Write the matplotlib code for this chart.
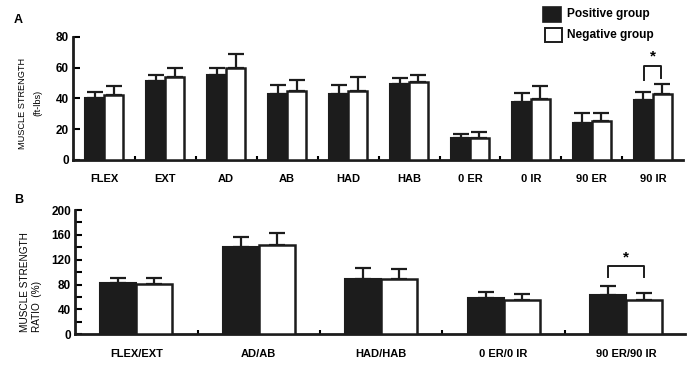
import matplotlib
matplotlib.use("Agg")
import matplotlib.pyplot as plt
import numpy as np
from matplotlib.patches import Rectangle

plt.rcParams['font.family'] = ['Liberation Sans', 'DejaVu Sans']

# ---- data panel A ----
cats_a = ["FLEX", "EXT", "AD", "AB", "HAD", "HAB", "0 ER", "0 IR", "90 ER", "90 IR"]
pos_a = [40, 51.5, 55.4, 43, 43, 49.5, 14, 38, 24.3, 39]
pos_a_err = [4.5, 4, 4.5, 6, 6, 3.5, 2.7, 5.5, 6, 5]
neg_a = [42, 54, 59.8, 45, 44.6, 50.4, 14, 39.8, 25.4, 43]
neg_a_err = [6, 5.5, 9, 7, 9.5, 5, 4.5, 8, 5, 6.5]
yticks_a = [0, 20, 40, 60, 80]

# ---- data panel B ----
cats_b = ["FLEX/EXT", "AD/AB", "HAD/HAB", "0 ER/0 IR", "90 ER/90 IR"]
pos_b = [82, 141, 88.5, 58, 63.3]
pos_b_err = [8, 15.5, 18.5, 10.7, 14.4]
neg_b = [80.4, 143.7, 89.5, 55, 54.7]
neg_b_err = [9.5, 20, 15, 9.7, 11.3]
yticks_b = [0, 40, 80, 120, 160, 200]

BLACK = "#1c1c1c"

fig = plt.figure(figsize=(6.96, 3.66), dpi=100)
axA = fig.add_axes([0.105, 0.563, 0.876, 0.336])
axB = fig.add_axes([0.108, 0.087, 0.876, 0.339])


def style(ax):
    for s in ["top", "right"]:
        ax.spines[s].set_visible(False)
    for s in ["left", "bottom"]:
        ax.spines[s].set_linewidth(2)
        ax.spines[s].set_color(BLACK)


def draw(ax, cats, pos, pos_err, neg, neg_err, w, capsize):
    x = np.arange(len(cats))
    ax.bar(x - w / 2, pos, w, color=BLACK, edgecolor=BLACK, linewidth=1.5, zorder=3)
    ax.bar(x + w / 2, neg, w, color="white", edgecolor=BLACK, linewidth=1.8, zorder=3)
    z = [0] * len(cats)
    ax.errorbar(x - w / 2, pos, yerr=[z, pos_err], fmt="none", ecolor=BLACK,
                elinewidth=1.6, capsize=capsize, capthick=1.6, zorder=2)
    ax.errorbar(x + w / 2, neg, yerr=[z, neg_err], fmt="none", ecolor=BLACK,
                elinewidth=1.6, capsize=capsize, capthick=1.6, zorder=2)
    ax.set_xticks(x)
    ax.set_xticks(x[:-1] + 0.5, minor=True)
    ax.tick_params(axis="x", which="major", length=0)
    ax.tick_params(axis="x", which="minor", length=3, width=1.5, direction="in")
    ax.tick_params(axis="y", which="both", direction="in", width=1.5, length=5,
                   labelsize=8, pad=3)
    return x


# Panel A
style(axA)
wA = 0.31
x = draw(axA, cats_a, pos_a, pos_a_err, neg_a, neg_a_err, wA, 5.5)
axA.set_xlim(-0.51, 9.49)
axA.set_ylim(0, 80)
axA.set_yticks(yticks_a)
axA.set_yticklabels([str(v) for v in yticks_a], fontweight="bold", fontsize=8.5)
axA.set_xticklabels(cats_a, fontsize=8, fontweight="bold")
axA.tick_params(axis="x", which="major", pad=10)
# significance bracket A
i = 9
axA.plot([i - 0.28 / 2, i - 0.28 / 2, i + 0.28 / 2, i + 0.28 / 2], [52, 61.2, 61.2, 53],
         color=BLACK, lw=1.4, clip_on=False)
axA.text(i, 63, "*", ha="center", va="bottom", fontsize=11, fontweight="bold")

# Panel B
style(axB)
wB = 0.295
x = draw(axB, cats_b, pos_b, pos_b_err, neg_b, neg_b_err, wB, 5.5)
axB.set_xlim(-0.5, 4.48)
axB.set_ylim(0, 200)
axB.set_yticks(yticks_b)
axB.set_yticks(np.arange(20, 200, 40), minor=True)
axB.set_yticklabels([str(v) for v in yticks_b], fontweight="bold", fontsize=8.5)
axB.tick_params(axis="y", which="minor", length=5, width=1.5, direction="in")
axB.set_xticklabels(cats_b, fontsize=8, fontweight="bold")
axB.tick_params(axis="x", which="major", pad=11)
i = 4
axB.plot([i - wB / 2, i - wB / 2, i + wB / 2, i + wB / 2], [92, 110, 110, 92],
         color=BLACK, lw=1.4, clip_on=False)
axB.text(i, 113, "*", ha="center", va="bottom", fontsize=11, fontweight="bold")

# Y labels
fig.text(30 / 696, 1 - 103 / 366, "MUSCLE STRENGTH\n(ft-lbs)", rotation=90,
         ha="center", va="center", multialignment="center", fontsize=6.6,
         linespacing=1.9)
fig.text(31 / 696, 1 - 282 / 366, "MUSCLE STRENGTH\nRATIO  (%)", rotation=90,
         ha="center", va="center", multialignment="left", fontsize=7.2,
         linespacing=1.35)

# Panel letters
fig.text(14 / 696, 1 - 20 / 366, "A", fontsize=9, fontweight="bold", va="center")
fig.text(14 / 696, 1 - 200 / 366, "B", fontsize=9, fontweight="bold", va="center")

# Legend
fig.patches.append(Rectangle((543 / 696, 1 - 22 / 366), 18 / 696, 15 / 366,
                             transform=fig.transFigure, facecolor=BLACK,
                             edgecolor=BLACK, lw=1.2))
fig.patches.append(Rectangle((545 / 696, 1 - 42 / 366), 17 / 696, 14 / 366,
                             transform=fig.transFigure, facecolor="white",
                             edgecolor=BLACK, lw=1.4))
fig.text(567 / 696, 1 - 14 / 366, "Positive group", fontsize=8.6,
         fontweight="bold", va="center")
fig.text(567 / 696, 1 - 35 / 366, "Negative group", fontsize=8.6,
         fontweight="bold", va="center")

fig.savefig("out.png", dpi=100)
